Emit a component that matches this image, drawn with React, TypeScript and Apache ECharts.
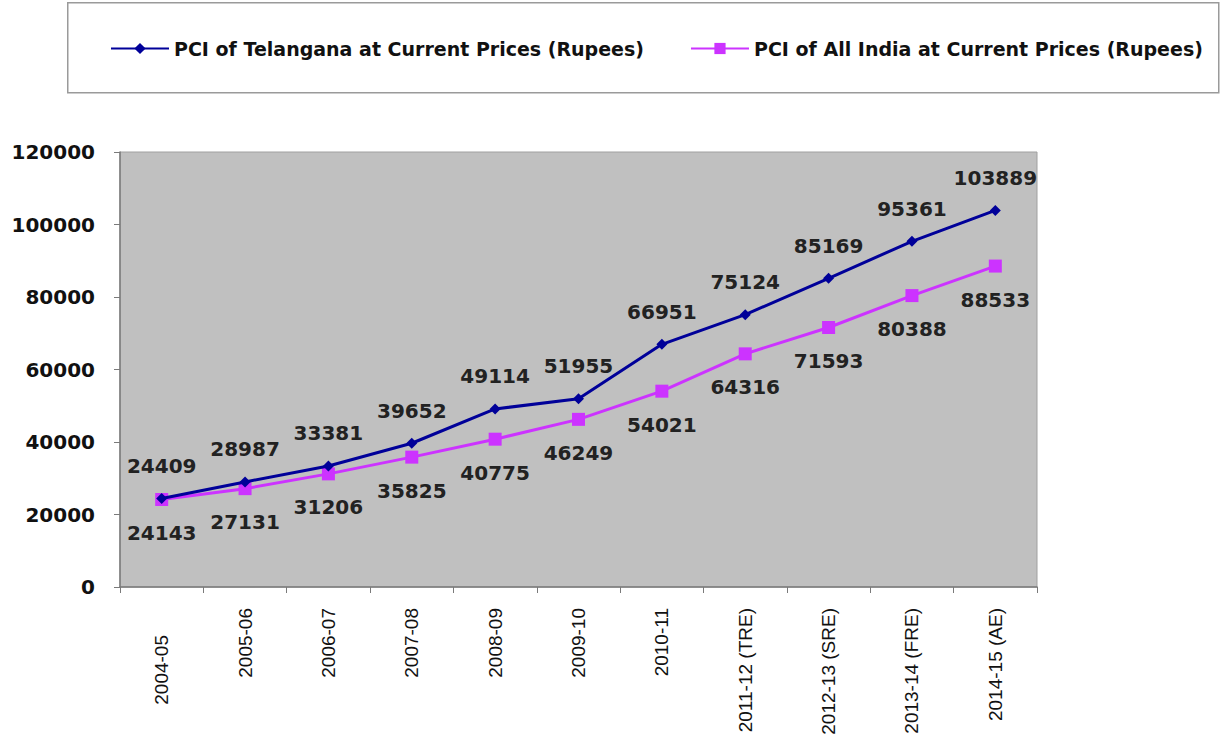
import React, { useEffect, useRef } from "react";
import * as echarts from "echarts";

const categories = [
  "2004-05",
  "2005-06",
  "2006-07",
  "2007-08",
  "2008-09",
  "2009-10",
  "2010-11",
  "2011-12 (TRE)",
  "2012-13 (SRE)",
  "2013-14 (FRE)",
  "2014-15 (AE)",
];
const telangana = [24409, 28987, 33381, 39652, 49114, 51955, 66951, 75124, 85169, 95361, 103889];
const allIndia = [24143, 27131, 31206, 35825, 40775, 46249, 54021, 64316, 71593, 80388, 88533];
const seriesNames = [
  "PCI of Telangana at Current Prices (Rupees)",
  "PCI of All India at Current Prices (Rupees)",
];

export default function App() {
  const ref = useRef<HTMLDivElement>(null);
  useEffect(() => {
    if (!ref.current) return;
    const chart = echarts.init(ref.current, undefined, { renderer: "svg" });
    const labelStyle = {
      show: true,
      fontFamily: "DejaVu Sans",
      fontWeight: "bold" as const,
      fontSize: 20,
      color: "#222",
      distance: 17,
    };
    chart.setOption({
      animation: false,
      backgroundColor: "#ffffff",
      graphic: [
        {
          type: "rect",
          left: 67,
          top: 2,
          shape: { x: 0, y: 0, width: 1151, height: 90 },
          style: { fill: "#ffffff", stroke: "#9a9a9a", lineWidth: 1.5 },
          z: -1,
        },
      ],
      legend: {
        left: 105,
        top: 34,
        itemWidth: 58,
        itemHeight: 14,
        itemGap: 46,
        textStyle: {
          fontFamily: "DejaVu Sans",
          fontWeight: "bold",
          fontSize: 19,
          color: "#111",
        },
        data: seriesNames,
      },
      grid: {
        left: 120,
        top: 152,
        right: 186,
        bottom: 155,
        show: true,
        backgroundColor: "#c0c0c0",
        borderColor: "#a0a0a0",
        borderWidth: 1,
      },
      xAxis: {
        type: "category",
        boundaryGap: true,
        data: categories.map((c, i) =>
          i === 0 ? { value: c, textStyle: { padding: [0, 27, 0, 0] } } : c
        ),
        axisLine: { show: true, lineStyle: { color: "#7a7a7a", width: 1.5 } },
        axisTick: { show: true, alignWithLabel: false, length: 6, lineStyle: { color: "#7a7a7a" } },
        axisLabel: {
          rotate: 90,
          interval: 0,
          margin: 21,
          fontFamily: "Liberation Sans",
          fontSize: 19,
          color: "#111",
        },
        splitLine: { show: false },
      },
      yAxis: {
        type: "value",
        min: 0,
        max: 120000,
        interval: 20000,
        axisLine: { show: true, lineStyle: { color: "#7a7a7a", width: 1.5 } },
        axisTick: { show: true, length: 6, lineStyle: { color: "#7a7a7a" } },
        axisLabel: {
          margin: 25,
          fontFamily: "DejaVu Sans",
          fontWeight: "bold",
          fontSize: 20,
          color: "#111",
          formatter: (v: number) => String(v),
        },
        splitLine: { show: false },
      },
      series: [
        {
          name: seriesNames[0],
          type: "line",
          data: telangana,
          symbol: "diamond",
          symbolSize: 11,
          lineStyle: { color: "#000099", width: 3 },
          itemStyle: { color: "#000099" },
          label: { ...labelStyle, position: "top" },
          z: 3,
        },
        {
          name: seriesNames[1],
          type: "line",
          data: allIndia,
          symbol: "rect",
          symbolSize: 13,
          lineStyle: { color: "#cc33ff", width: 3 },
          itemStyle: { color: "#cc33ff" },
          label: { ...labelStyle, position: "bottom" },
          z: 2,
        },
      ],
    });
    return () => chart.dispose();
  }, []);
  return (
    <div
      ref={ref}
      style={{ position: "absolute", left: 0, top: 0, width: 1223, height: 742 }}
    />
  );
}
